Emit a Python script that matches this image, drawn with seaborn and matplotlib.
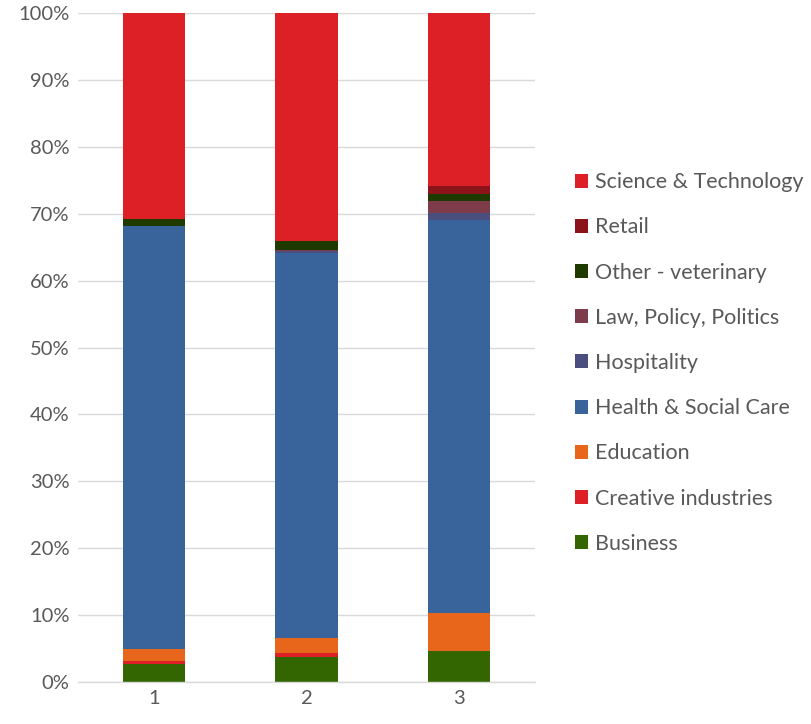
import matplotlib
matplotlib.use("Agg")
import matplotlib.pyplot as plt
import seaborn as sns
import pandas as pd
import numpy as np
from matplotlib.patches import Patch

# ---- data ----
groups = ["1", "2", "3"]
categories = ["Business", "Creative industries", "Education", "Health & Social Care",
              "Hospitality", "Law, Policy, Politics", "Other - veterinary", "Retail",
              "Science & Technology"]
business = [2.7, 3.7, 4.6]
creative = [0.4, 0.6, 0.0]
education = [1.9, 2.3, 5.7]
health = [63.2, 57.6, 58.7]
hospitality = [0.0, 0.2, 1.1]
law = [0.0, 0.2, 1.8]
other_vet = [1.0, 1.3, 1.1]
retail = [0.0, 0.0, 1.2]
science = [30.8, 34.1, 25.8]
colors = ["#336600", "#DD1F26", "#E8661C", "#38639B", "#4A4F7F",
          "#7E3B4A", "#1F3A00", "#8B1319", "#DD1F26"]
yticks = list(range(0, 101, 10))

series = [business, creative, education, health, hospitality, law, other_vet, retail, science]

sns.set_theme(style="white")
plt.rcParams['font.family'] = ['Lato', 'DejaVu Sans']

fig = plt.figure(figsize=(8.11, 7.24), dpi=100)
ax = fig.add_axes([0.096, 0.058, 0.564, 0.924])

vals = np.array(series)
cum = np.cumsum(vals, axis=0)
totals = cum[-1]
cum_pct = cum / totals * 100

# draw from top layer downward so each lower cumulative bar overlays the previous
for i in range(len(categories) - 1, -1, -1):
    df = pd.DataFrame({"group": groups, "value": cum_pct[i]})
    sns.barplot(data=df, x="group", y="value", color=colors[i], saturation=1,
                width=0.41, ax=ax, linewidth=0, zorder=2)

ax.set_ylim(0, 100)
ax.set_xlim(-0.5, 2.5)
ax.set_yticks(yticks)
ax.set_yticklabels([f"{t}%" for t in yticks], fontsize=14.5, color="#595959")
ax.tick_params(axis="x", labelsize=14.5, labelcolor="#595959", length=0, pad=6)
ax.tick_params(axis="y", length=0, pad=6)
ax.set_xlabel("")
ax.set_ylabel("")
ax.yaxis.grid(True, color="#D9D9D9", linewidth=1, zorder=0)
ax.set_axisbelow(True)
for s in ["top", "right", "left"]:
    ax.spines[s].set_visible(False)
ax.spines["bottom"].set_color("#D9D9D9")
ax.spines["bottom"].set_linewidth(1)

handles = [Patch(facecolor=colors[i], edgecolor="none", label=categories[i])
           for i in range(len(categories) - 1, -1, -1)]
fig.legend(handles=handles, loc="center left", bbox_to_anchor=(0.709, 0.4986),
           borderaxespad=0, borderpad=0,
           frameon=False, fontsize=15.5, labelcolor="#595959",
           handlelength=0.62, handleheight=0.62, handletextpad=0.32,
           labelspacing=1.17)

fig.savefig("out.png", dpi=100)
